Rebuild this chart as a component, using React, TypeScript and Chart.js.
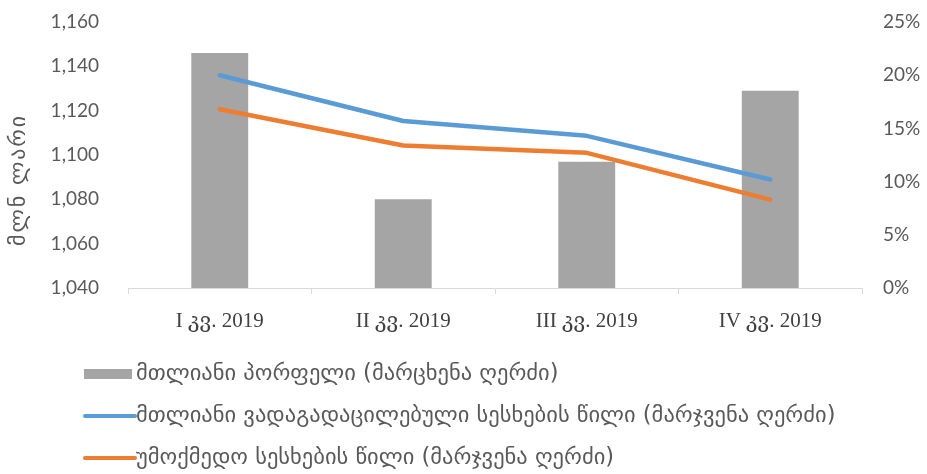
import React, { useEffect, useRef } from "react";
import { Chart, registerables } from "chart.js";

Chart.register(...registerables);

const categories = ["I კვ. 2019", "II კვ. 2019", "III კვ. 2019", "IV კვ. 2019"];
const portfolio = [1146, 1080, 1097, 1129];
const overdueShare = [20.0, 15.7, 14.3, 10.2];
const nplShare = [16.8, 13.4, 12.7, 8.3];
const seriesNames = [
  "მთლიანი პორფელი (მარცხენა ღერძი)",
  "მთლიანი ვადაგადაცილებული სესხების წილი (მარჯვენა ღერძი)",
  "უმოქმედო სესხების წილი (მარჯვენა ღერძი)",
];
const leftAxisTitle = "მლნ ლარი";
const leftMin = 1040;
const leftMax = 1160;
const leftStep = 20;
const rightMin = 0;
const rightMax = 25;
const rightStep = 5;

const GRAY = "#A5A5A5";
const BLUE = "#5B9BD5";
const ORANGE = "#ED7D31";
const TEXT = "#595959";
const GEO_FONT = "'DejaVu Sans', 'Noto Sans', sans-serif";

const customPlugin = {
  id: "customDecor",
  afterDraw(chart: any) {
    const ctx = chart.ctx;
    // y axis title
    ctx.save();
    ctx.translate(19, 180);
    ctx.rotate(-Math.PI / 2);
    ctx.fillStyle = TEXT;
    ctx.font = `22px ${GEO_FONT}`;
    const w = ctx.measureText(leftAxisTitle).width;
    const target = 132;
    const n = Array.from(leftAxisTitle).length;
    if (w < target && "letterSpacing" in ctx) {
      (ctx as any).letterSpacing = `${(target - w) / n}px`;
    }
    ctx.textAlign = "center";
    ctx.textBaseline = "middle";
    ctx.fillText(leftAxisTitle, 0, 0);
    ctx.restore();

    // legend
    const startY = 374;
    const rowGap = 42;
    chart.data.datasets.forEach((ds: any, i: number) => {
      const y = startY + i * rowGap;
      ctx.save();
      if (ds.type === "bar") {
        ctx.fillStyle = ds.backgroundColor;
        ctx.fillRect(84, y - 5, 48, 10);
      } else {
        ctx.strokeStyle = ds.borderColor;
        ctx.lineWidth = 4;
        ctx.lineCap = "round";
        ctx.beginPath();
        ctx.moveTo(85, y);
        ctx.lineTo(135, y);
        ctx.stroke();
      }
      ctx.fillStyle = TEXT;
      ctx.font = `22.5px ${GEO_FONT}`;
      ctx.textAlign = "left";
      ctx.textBaseline = "middle";
      ctx.fillText(ds.label, 136, y);
      ctx.restore();
    });
  },
};

export default function App() {
  const canvasRef = useRef<HTMLCanvasElement | null>(null);

  useEffect(() => {
    if (!canvasRef.current) return;
    const chart = new Chart(canvasRef.current, {
      type: "bar",
      data: {
        labels: categories,
        datasets: [
          {
            type: "bar",
            label: seriesNames[0],
            data: portfolio,
            backgroundColor: GRAY,
            yAxisID: "y",
            order: 2,
            barPercentage: 0.31,
            categoryPercentage: 1,
          },
          {
            type: "line",
            label: seriesNames[1],
            data: overdueShare,
            borderColor: BLUE,
            backgroundColor: BLUE,
            borderWidth: 4.5,
            borderCapStyle: "round",
            borderJoinStyle: "round",
            pointRadius: 0,
            tension: 0,
            yAxisID: "y1",
            order: 1,
          },
          {
            type: "line",
            label: seriesNames[2],
            data: nplShare,
            borderColor: ORANGE,
            backgroundColor: ORANGE,
            borderWidth: 4.5,
            borderCapStyle: "round",
            borderJoinStyle: "round",
            pointRadius: 0,
            tension: 0,
            yAxisID: "y1",
            order: 1,
          },
        ],
      } as any,
      options: {
        animation: false,
        responsive: true,
        maintainAspectRatio: false,
        layout: { padding: { top: 22, left: 0, right: 0, bottom: 0 } },
        plugins: {
          legend: { display: false },
          tooltip: { enabled: false },
          title: { display: false },
        },
        scales: {
          x: {
            type: "category",
            offset: true,
            grid: {
              display: true,
              drawOnChartArea: false,
              drawTicks: true,
              tickLength: 6,
              color: "#D9D9D9",
              offset: true,
            },
            border: { display: true, color: "#D9D9D9", width: 1 },
            ticks: {
              color: "#404040",
              padding: 15,
              maxRotation: 0,
              autoSkip: false,
              font: { family: "'Liberation Serif', 'DejaVu Serif', 'DejaVu Sans', serif", size: 21 },
            },
            afterFit: (scale: any) => {
              scale.height = 186;
              scale.paddingLeft = 0;
              scale.paddingRight = 0;
            },
          },
          y: {
            type: "linear",
            position: "left",
            min: leftMin,
            max: leftMax,
            grid: { display: false, drawTicks: false },
            border: { display: false },
            ticks: {
              stepSize: leftStep,
              padding: 29,
              color: TEXT,
              font: { family: "Lato, 'Open Sans', sans-serif", size: 19 },
              callback: (v: any) => Number(v).toLocaleString("en-US"),
            },
            afterFit: (scale: any) => {
              scale.width = 128;
              scale.paddingTop = 0;
              scale.paddingBottom = 0;
            },
          },
          y1: {
            type: "linear",
            position: "right",
            min: rightMin,
            max: rightMax,
            grid: { display: false, drawTicks: false },
            border: { display: false },
            ticks: {
              stepSize: rightStep,
              padding: 21,
              color: TEXT,
              font: { family: "Lato, 'Open Sans', sans-serif", size: 19 },
              callback: (v: any) => `${v}%`,
            },
            afterFit: (scale: any) => {
              scale.width = 65;
              scale.paddingTop = 0;
              scale.paddingBottom = 0;
            },
          },
        },
      } as any,
      plugins: [customPlugin],
    });
    return () => chart.destroy();
  }, []);

  return (
    <div style={{ position: "fixed", left: 0, top: 0, width: 927, height: 474 }}>
      <canvas ref={canvasRef} />
    </div>
  );
}
